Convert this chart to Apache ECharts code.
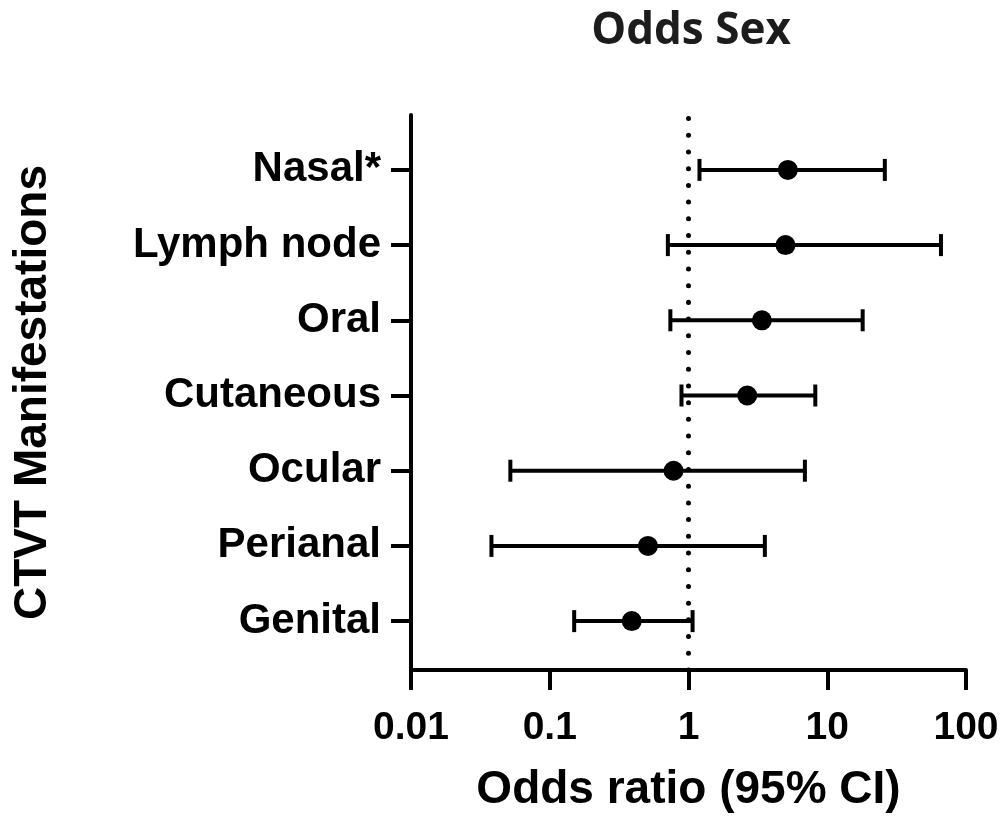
<!DOCTYPE html>
<html>
<head>
<meta charset="utf-8">
<script src="https://cdn.jsdelivr.net/npm/echarts@6/dist/echarts.min.js"></script>
<style>
html,body{margin:0;padding:0;background:#fff;}
#chart{width:1003px;height:818px;}
</style>
</head>
<body>
<div id="chart"></div>
<script>
// Categories listed bottom to top (row 1 = bottom)
const categories = ['Genital', 'Perianal', 'Ocular', 'Cutaneous', 'Oral', 'Lymph node', 'Nasal*'];
const oddsRatio = [0.39, 0.51, 0.78, 2.65, 3.38, 5.0, 5.2];
const ciLow = [0.15, 0.038, 0.052, 0.89, 0.74, 0.71, 1.2];
const ciHigh = [1.07, 3.55, 6.9, 8.2, 18, 66, 26];
const xTicks = [0.01, 0.1, 1, 10, 100];
const rows = categories.map((c, i) => i + 1);

const LABEL_FONT = '"Liberation Sans", Arial, sans-serif';

const chart = echarts.init(document.getElementById('chart'), null, {renderer: 'canvas'});

const pointData = rows.map((r, i) => [oddsRatio[i], r]);
const barData = rows.map((r, i) => [ciLow[i], ciHigh[i], r]);

chart.setOption({
  animation: false,
  backgroundColor: '#ffffff',
  title: {
    text: 'Odds Sex',
    left: 686,
    textAlign: 'center',
    top: 4,
    textStyle: {fontFamily: '"Open Sans", sans-serif', fontWeight: 'bold', fontSize: 44, color: '#1c1c1c'}
  },
  grid: {left: 411, right: 37, top: 115, bottom: 146, containLabel: false},
  xAxis: {
    type: 'log',
    logBase: 10,
    min: 0.01,
    max: 100,
    name: 'Odds ratio (95% CI)',
    nameLocation: 'middle',
    nameGap: 97,
    nameTextStyle: {fontFamily: LABEL_FONT, fontWeight: 'bold', fontSize: 46, color: '#000'},
    axisLine: {show: true, lineStyle: {color: '#000', width: 4}},
    axisTick: {show: true, inside: false, length: 20, lineStyle: {color: '#000', width: 4}},
    axisLabel: {
      show: true, margin: 39,
      fontFamily: LABEL_FONT, fontWeight: 'bold', fontSize: 39, color: '#000',
      formatter: v => {
        const m = xTicks.find(t => Math.abs(Math.log10(t) - Math.log10(v)) < 1e-6);
        return m !== undefined ? String(m) : '';
      }
    },
    splitLine: {show: false}
  },
  yAxis: {
    type: 'value',
    min: 0.35,
    max: 7.73,
    name: 'CTVT Manifestations',
    nameLocation: 'middle',
    nameRotate: 90,
    nameGap: 355,
    nameTextStyle: {fontFamily: LABEL_FONT, fontWeight: 'bold', fontSize: 46, color: '#000'},
    axisLine: {show: true, lineStyle: {color: '#000', width: 4}},
    axisTick: {show: true, length: 20, customValues: rows, lineStyle: {color: '#000', width: 4}},
    axisLabel: {
      show: true, margin: 30, customValues: rows,
      fontFamily: LABEL_FONT, fontWeight: 'bold', fontSize: 42, color: '#000',
      formatter: v => categories[Math.round(v) - 1] || ''
    },
    splitLine: {show: false}
  },
  series: [
    {
      type: 'custom',
      name: 'CI',
      data: barData,
      encode: {x: [0, 1], y: 2},
      renderItem: function (params, api) {
        const y = api.value(2);
        const p1 = api.coord([api.value(0), y]);
        const p2 = api.coord([api.value(1), y]);
        const h = 11;
        const style = {stroke: '#000', lineWidth: 4};
        return {
          type: 'group',
          children: [
            {type: 'line', shape: {x1: p1[0], y1: p1[1], x2: p2[0], y2: p2[1]}, style: style},
            {type: 'line', shape: {x1: p1[0], y1: p1[1] - h, x2: p1[0], y2: p1[1] + h}, style: style},
            {type: 'line', shape: {x1: p2[0], y1: p2[1] - h, x2: p2[0], y2: p2[1] + h}, style: style}
          ]
        };
      },
      z: 2
    },
    {
      type: 'scatter',
      name: 'OR',
      data: pointData,
      symbol: 'circle',
      symbolSize: 20,
      itemStyle: {color: '#000', opacity: 1},
      z: 3,
      markLine: {
        silent: true,
        symbol: ['none', 'none'],
        label: {show: false},
        lineStyle: {color: '#000', width: 5, type: [0.01, 16.7], cap: 'round', opacity: 1},
        data: [{xAxis: 1}]
      }
    }
  ]
});
</script>
</body>
</html>
